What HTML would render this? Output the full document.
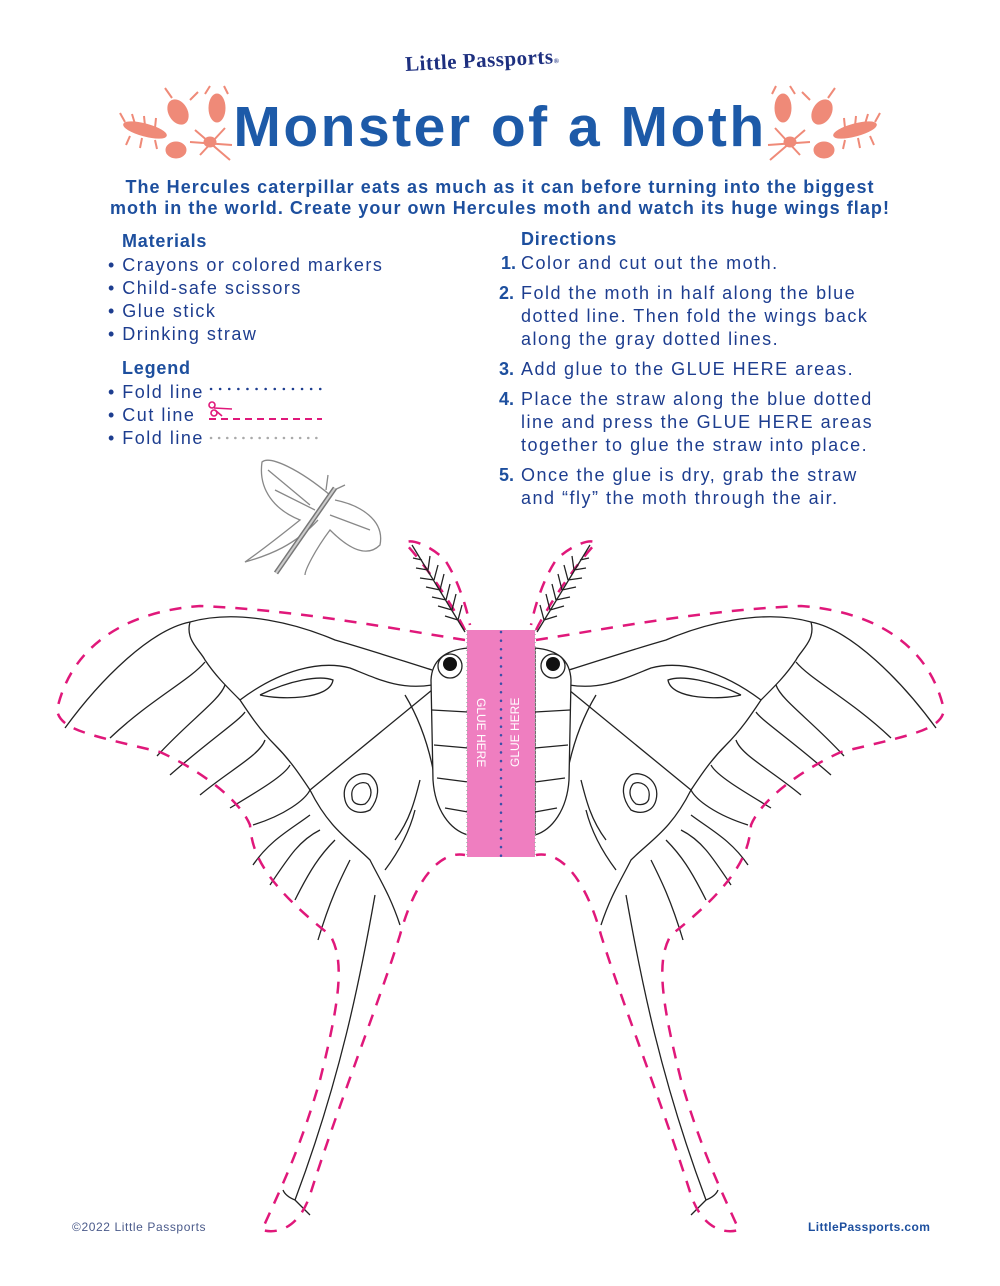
<!DOCTYPE html>
<html><head><meta charset="utf-8"><style>
html,body{margin:0;padding:0;background:#fff;}
body{width:1000px;height:1286px;position:relative;overflow:hidden;font-family:"Liberation Sans",sans-serif;color:#1d3d8f;}
.t{position:absolute;white-space:nowrap;}
.h{font-weight:bold;font-size:18px;color:#1d4f9e;letter-spacing:0.8px;}
.li{font-size:18px;letter-spacing:1.5px;}
.num{font-weight:bold;color:#1d4f9e;position:absolute;letter-spacing:0;}
</style></head><body>
<svg width="1000" height="1286" style="position:absolute;left:0;top:0" xmlns="http://www.w3.org/2000/svg">
<g fill="#ef8a78" stroke="#ef8a78">
 <ellipse cx="145" cy="130" rx="22" ry="6" transform="rotate(15 145 130)"/>
 <g stroke-width="2"><line x1="125" y1="122" x2="120" y2="113"/><line x1="135" y1="124" x2="132" y2="114"/><line x1="145" y1="126" x2="144" y2="116"/><line x1="155" y1="128" x2="156" y2="118"/><line x1="130" y1="136" x2="126" y2="145"/><line x1="142" y1="138" x2="140" y2="148"/><line x1="155" y1="140" x2="157" y2="149"/></g>
 <ellipse cx="178" cy="112" rx="9" ry="13" transform="rotate(-30 178 112)"/>
 <ellipse cx="217" cy="108" rx="8" ry="14"/>
 <ellipse cx="176" cy="150" rx="10" ry="8"/>
 <ellipse cx="210" cy="142" rx="6" ry="5"/>
 <g stroke-width="2" fill="none"><path d="M195 130 L230 160 M200 155 L225 128 M190 142 L232 145 M172 98 L165 88 M190 100 L198 92 M205 94 L210 86 M228 94 L224 86"/></g>
</g>
<g fill="#ef8a78" stroke="#ef8a78" transform="translate(1000,0) scale(-1,1)">
 <ellipse cx="145" cy="130" rx="22" ry="6" transform="rotate(15 145 130)"/>
 <g stroke-width="2"><line x1="125" y1="122" x2="120" y2="113"/><line x1="135" y1="124" x2="132" y2="114"/><line x1="145" y1="126" x2="144" y2="116"/><line x1="155" y1="128" x2="156" y2="118"/><line x1="130" y1="136" x2="126" y2="145"/><line x1="142" y1="138" x2="140" y2="148"/><line x1="155" y1="140" x2="157" y2="149"/></g>
 <ellipse cx="178" cy="112" rx="9" ry="13" transform="rotate(-30 178 112)"/>
 <ellipse cx="217" cy="108" rx="8" ry="14"/>
 <ellipse cx="176" cy="150" rx="10" ry="8"/>
 <ellipse cx="210" cy="142" rx="6" ry="5"/>
 <g stroke-width="2" fill="none"><path d="M195 130 L230 160 M200 155 L225 128 M190 142 L232 145 M172 98 L165 88 M190 100 L198 92 M205 94 L210 86 M228 94 L224 86"/></g>
</g>
<line x1="211" y1="389" x2="322" y2="389" stroke="#1d3d8f" stroke-width="2.5" stroke-dasharray="0.1 9" stroke-linecap="round"/>
<line x1="209" y1="419" x2="322" y2="419" stroke="#e0187a" stroke-width="2" stroke-dasharray="7 5"/>
<g stroke="#e0187a" stroke-width="1.6" fill="none"><circle cx="212" cy="405" r="3"/><circle cx="214" cy="413" r="3"/><line x1="214" y1="408" x2="232" y2="409"/><line x1="215" y1="410" x2="222" y2="416"/></g>
<line x1="211" y1="438" x2="322" y2="438" stroke="#aaa" stroke-width="2.5" stroke-dasharray="0.1 8" stroke-linecap="round"/>
<g fill="none" stroke="#888" stroke-width="1.3">
 <path d="M330 495 C300 470 270 455 262 462 C258 490 275 510 300 520 C275 540 255 555 245 562 C270 555 295 545 318 520"/>
 <path d="M335 500 C360 505 385 520 380 545 C365 560 345 545 330 530 C315 550 305 570 305 575"/>
 <path d="M268 470 L310 505 M275 490 L315 510 M330 515 L370 530"/>
 <path d="M326 490 L328 475 M330 492 L345 485"/>
</g>
<line x1="276" y1="573" x2="335" y2="488" stroke="#777" stroke-width="5"/>
<line x1="276" y1="573" x2="335" y2="488" stroke="#ccc" stroke-width="2"/>
<g id="wing" fill="none" stroke="#222" stroke-width="1.3">
 <path d="M65 728 C100 680 150 630 190 622 C240 608 300 625 335 640 C370 650 400 660 432 670"/>
 <path d="M190 622 C185 640 200 650 205 660 C215 675 225 685 240 700 C250 715 260 730 275 745 C290 760 300 775 310 790"/>
 <path d="M110 738 C150 700 190 680 205 662 M157 756 C190 720 220 700 225 685 M170 775 C210 740 240 720 245 712 M200 795 C230 770 260 755 265 740 M230 808 C260 790 285 775 290 765 M253 825 C285 815 305 800 310 790"/>
 <path d="M240 700 C280 670 320 660 350 668 C380 680 400 690 432 685 M260 695 C290 680 320 675 333 680 C330 700 280 700 260 695"/>
 <path d="M310 790 L432 690"/>
 <path d="M310 790 C330 830 350 840 370 860 C380 880 390 895 400 925"/>
 <path d="M253 865 C270 840 290 830 310 815 M270 885 C290 855 300 840 320 830 M295 900 C310 870 320 855 335 840 M318 940 C330 900 340 880 350 860"/>
 <path d="M375 895 C360 980 340 1080 295 1200 C290 1198 285 1195 283 1190 M295 1200 C300 1205 305 1210 310 1215"/>
 <path d="M345 800 C340 780 360 770 370 775 C382 785 378 800 370 810 C360 815 348 812 345 800 Z M352 797 C350 785 362 780 368 784 C374 792 370 800 365 804 C358 806 352 803 352 797 Z"/>
 <path d="M395 840 C410 820 415 800 420 780 M385 870 C400 850 410 830 415 810"/>
 <path d="M405 695 C420 720 430 750 435 780"/>
</g>
<use href="#wing" transform="translate(1001,0) scale(-1,1)"/>
<g id="cut" fill="none" stroke="#e0187a" stroke-width="2.5" stroke-dasharray="12 10">
 <path d="M465 640 C400 630 300 610 200 606 C120 612 70 650 57 710 C60 730 90 735 160 752 C200 770 240 800 250 825 C252 850 260 880 330 935 C345 960 340 1000 320 1080 C300 1150 280 1190 262 1230 C280 1235 300 1225 310 1195 C340 1100 380 1000 400 935 C415 880 440 850 465 855"/>
 <path d="M465 630 C455 610 430 570 405 543 C410 538 430 545 445 560 C455 575 465 600 470 625"/>
</g>
<use href="#cut" transform="translate(1001,0) scale(-1,1)"/>
<g fill="none" stroke="#222" stroke-width="1.3">
 <path d="M465 632 L412 545 M458 620 L445 616 M452 610 L438 606 M446 600 L432 597 M440 590 L426 587 M434 580 L420 578 M428 570 L416 568 M422 560 L413 558 M458 620 L462 605 M452 610 L456 594 M446 600 L450 584 M440 590 L444 574 M434 580 L438 565 M428 570 L430 556"/>
 <path d="M537 632 L590 545 M544 620 L557 616 M550 610 L564 606 M556 600 L570 597 M562 590 L576 587 M568 580 L582 578 M574 570 L586 568 M580 560 L589 558 M544 620 L540 605 M550 610 L546 594 M556 600 L552 584 M562 590 L558 574 M568 580 L564 565 M574 570 L572 556"/>
</g>
<g fill="#fff" stroke="#222" stroke-width="1.3">
 <path d="M468 648 C445 650 432 660 431 680 L433 780 C435 810 450 830 468 835 Z"/>
 <path d="M535 648 C558 650 570 660 571 680 L569 780 C567 810 552 830 535 835 Z"/>
</g>
<g stroke="#222" stroke-width="1.3" fill="none"><path d="M432 710 L468 712 M434 745 L468 748 M437 778 L468 782 M445 808 L468 812 M570 710 L535 712 M568 745 L535 748 M565 778 L535 782 M557 808 L535 812"/></g>
<circle cx="450" cy="666" r="12" fill="#fff" stroke="#222" stroke-width="1.3"/><circle cx="450" cy="664" r="7" fill="#111"/>
<circle cx="553" cy="666" r="12" fill="#fff" stroke="#222" stroke-width="1.3"/><circle cx="553" cy="664" r="7" fill="#111"/>
<rect x="467" y="630" width="68" height="227" fill="#ef7ec0"/>
<line x1="467" y1="630" x2="467" y2="857" stroke="#aaa" stroke-width="1.5" stroke-dasharray="1 3"/>
<line x1="535" y1="630" x2="535" y2="857" stroke="#aaa" stroke-width="1.5" stroke-dasharray="1 3"/>
<line x1="501" y1="632" x2="501" y2="857" stroke="#3b4fa8" stroke-width="2.5" stroke-dasharray="0.1 8.5" stroke-linecap="round"/>
<text x="0" y="0" transform="translate(477,698) rotate(90)" fill="#fff" font-family="Liberation Sans,sans-serif" font-size="12">GLUE HERE</text>
<text x="0" y="0" transform="translate(519,767) rotate(-90)" fill="#fff" font-family="Liberation Sans,sans-serif" font-size="12">GLUE HERE</text>
</svg>

<div class="t" style="left:405px;top:48px;font-size:21px;font-weight:bold;font-family:'Liberation Serif',serif;color:#1d2f7f;transform:rotate(-3deg);letter-spacing:0.5px">Little Passports<span style="font-size:7px">®</span></div>
<div class="t" style="left:0;width:1000px;text-align:center;top:94px;font-size:57px;font-weight:bold;color:#1d5aa8;letter-spacing:2.5px">Monster of a Moth</div>
<div class="t" style="left:0;width:1000px;text-align:center;top:177px;font-size:18px;font-weight:bold;color:#1d4f9e;line-height:21px;letter-spacing:1.05px">The Hercules caterpillar eats as much as it can before turning into the biggest<br>moth in the world. Create your own Hercules moth and watch its huge wings flap!</div>

<div class="t h" style="left:122px;top:231px">Materials</div>
<div class="t li" style="left:108px;top:254px;line-height:23px">• Crayons or colored markers<br>• Child-safe scissors<br>• Glue stick<br>• Drinking straw</div>
<div class="t h" style="left:122px;top:358px">Legend</div>
<div class="t li" style="left:108px;top:381px;line-height:23px">• Fold line<br>• Cut line<br>• Fold line</div>

<div class="t h" style="left:521px;top:229px">Directions</div>
<div class="t li" style="left:499px;top:252px;line-height:23px;width:440px">
<div style="position:relative;padding-left:22px">
<span class="num" style="left:2px">1.</span>Color and cut out the moth.</div>
<div style="position:relative;padding-left:22px;margin-top:7px"><span class="num" style="left:0">2.</span>Fold the moth in half along the blue<br>dotted line. Then fold the wings back<br>along the gray dotted lines.</div>
<div style="position:relative;padding-left:22px;margin-top:7px"><span class="num" style="left:0">3.</span>Add glue to the GLUE HERE areas.</div>
<div style="position:relative;padding-left:22px;margin-top:7px"><span class="num" style="left:0">4.</span>Place the straw along the blue dotted<br>line and press the GLUE HERE areas<br>together to glue the straw into place.</div>
<div style="position:relative;padding-left:22px;margin-top:7px"><span class="num" style="left:0">5.</span>Once the glue is dry, grab the straw<br>and “fly” the moth through the air.</div>
</div>

<div class="t" style="left:72px;top:1220px;font-size:12px;color:#4a5a8a;letter-spacing:0.6px">©2022 Little Passports</div>
<div class="t" style="left:808px;top:1220px;font-size:12px;font-weight:bold;color:#1d4f9e;letter-spacing:0.4px">LittlePassports.com</div>
</body></html>
